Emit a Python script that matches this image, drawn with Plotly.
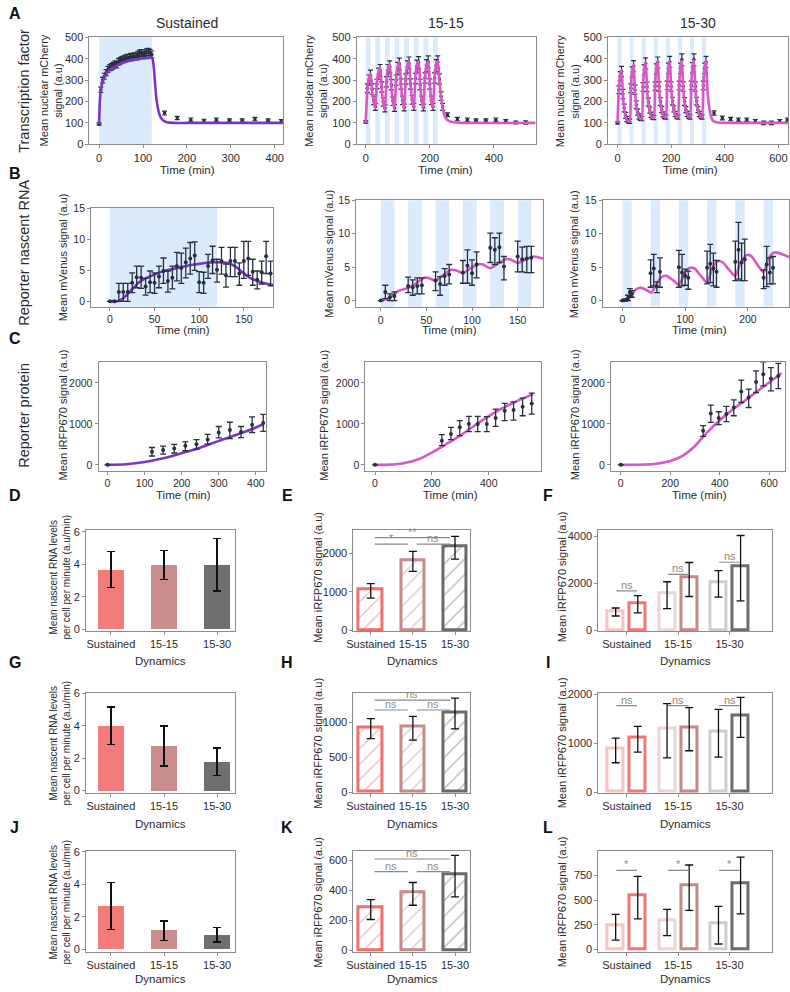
import plotly.graph_objects as go

W, H = 790, 992
FONT = "Liberation Sans, Arial, Helvetica, sans-serif"
NARROW = "Liberation Sans Narrow, Arial Narrow, Liberation Sans, Arial, sans-serif"
FRAME = "#8c8c8c"
TXT = "#2b2b2b"
DOT = "#28303f"
PURPLE = "#7a36c6"
PINK = "#d957c4"
BLUE = "#dcebfb"
SIG = "#8a8a8a"

# ======================= DATA =======================
titles = ["Sustained", "15-15", "15-30"]
categories = ["Sustained", "15-15", "15-30"]

# stimulation pulses (min)
A1_pulses = [[0, 120]]
A2_pulses = [[0, 15], [30, 45], [60, 75], [90, 105], [120, 135], [150, 165], [180, 195], [210, 225]]
A3_pulses = [[0, 15], [45, 60], [90, 105], [135, 150], [180, 195], [225, 240], [270, 285], [315, 330]]
B1_pulses = [[0, 120]]
B2_pulses = [[0, 15], [30, 45], [60, 75], [90, 105], [120, 135], [150, 165]]
B3_pulses = [[0, 15], [45, 60], [90, 105], [135, 150], [180, 195], [225, 240]]

# ---- Row A: nuclear mCherry ----
A1_t = [0, 4, 8, 12, 16, 20, 24, 28, 32, 36, 40, 44, 48, 52, 56, 60, 64, 68, 72, 76, 80, 84, 88, 92, 96, 100,
        104, 108, 112, 116, 120, 149, 178, 209, 239, 267, 297, 326, 355, 385, 415]
A1_y = [95, 255, 300, 318, 335, 350, 358, 362, 368, 375, 372, 385, 390, 395, 398, 402, 405, 405, 410, 408, 412,
        410, 420, 425, 428, 418, 425, 430, 432, 428, 420, 146, 123, 115, 110, 115, 112, 112, 118, 112, 107]
A1_err = [5, 12, 13, 14, 14, 14, 14, 15, 15, 15, 15, 15, 15, 15, 15, 15, 15, 15, 15, 15, 15, 15, 15, 15, 15,
          16, 16, 16, 16, 16, 16, 9, 8, 8, 7, 8, 7, 7, 8, 7, 8]
A1_curve_t = [0, 1, 2, 4, 7, 10, 15, 20, 30, 40, 50, 60, 70, 80, 90, 100, 110, 120, 122, 125, 128, 131, 135,
              140, 147, 155, 170, 200, 300, 420]
A1_curve_y = [95, 170, 215, 255, 285, 303, 323, 338, 356, 368, 377, 384, 390, 394, 398, 401, 403, 405, 398, 350,
              270, 205, 158, 127, 110, 103, 100, 100, 100, 100]

A2_t = [0, 5, 10, 15, 20, 25, 30, 35, 40, 45, 50, 55, 60, 65, 70, 75, 80, 85, 90, 95, 100, 105, 110, 115, 120,
        125, 130, 135, 140, 145, 150, 155, 160, 165, 170, 175, 180, 185, 190, 195, 200, 205, 210, 215, 220, 225,
        230, 235, 240, 255, 286, 317, 344, 375, 406, 437, 468, 499]
A2_y = [105, 262, 300, 322, 258, 205, 175, 282, 330, 345, 268, 198, 168, 292, 345, 362, 278, 202, 170, 300, 355,
        375, 282, 205, 172, 305, 362, 380, 282, 208, 175, 308, 365, 382, 280, 205, 172, 310, 368, 385, 282, 205,
        175, 310, 368, 385, 305, 225, 175, 138, 118, 115, 112, 112, 115, 108, 102, 102]
A2_err = [6, 20, 24, 25, 24, 20, 16, 22, 26, 28, 24, 20, 16, 24, 28, 28, 24, 20, 16, 24, 28, 28, 24, 20, 16,
          24, 28, 28, 24, 20, 16, 24, 28, 28, 24, 20, 16, 24, 28, 28, 24, 20, 16, 24, 28, 28, 24, 20, 16,
          9, 8, 8, 7, 7, 8, 7, 7, 8]
A2_curve_t = [0, 5, 10, 15, 20, 25, 30, 35, 40, 45, 50, 55, 60, 65, 70, 75, 80, 85, 90, 95, 100, 105, 110, 115,
              120, 125, 130, 135, 140, 145, 150, 155, 160, 165, 170, 175, 180, 185, 190, 195, 200, 205, 210, 215,
              220, 225, 230, 235, 240, 245, 250, 260, 280, 300, 530]
A2_curve_y = [100, 250, 310, 330, 250, 195, 170, 290, 340, 360, 260, 190, 162, 300, 355, 375, 270, 195, 165, 310,
              365, 385, 275, 200, 168, 315, 370, 388, 278, 200, 170, 315, 370, 388, 278, 200, 170, 315, 370, 388,
              278, 200, 170, 315, 370, 390, 300, 220, 170, 140, 122, 108, 102, 100, 100]

A3_t = [0, 5, 10, 15, 20, 25, 30, 35, 40, 45, 50, 55, 60, 65, 70, 75, 80, 85, 90, 95, 100, 105, 110, 115, 120,
        125, 130, 135, 140, 145, 150, 155, 160, 165, 170, 175, 180, 185, 190, 195, 200, 205, 210, 215, 220, 225,
        230, 235, 240, 245, 250, 255, 260, 265, 270, 275, 280, 285, 290, 295, 300, 305, 310, 315, 320, 325, 330,
        360, 391, 422, 451, 482, 514, 545, 574, 605, 634]
A3_y = [100, 255, 318, 340, 235, 170, 135, 118, 110, 108, 262, 338, 365, 255, 185, 150, 130, 122, 120, 268, 348,
        378, 268, 198, 160, 138, 128, 125, 272, 352, 382, 270, 200, 162, 140, 130, 128, 275, 355, 385, 270, 202,
        165, 142, 132, 128, 275, 355, 395, 270, 200, 162, 142, 132, 128, 275, 358, 395, 270, 202, 162, 142, 132,
        128, 275, 355, 385, 146, 123, 118, 115, 115, 108, 100, 100, 108, 115]
A3_err = [5, 18, 22, 24, 22, 18, 14, 12, 10, 10, 20, 24, 26, 22, 18, 14, 12, 10, 10, 20, 24, 26, 22, 18, 14, 12,
          10, 10, 20, 24, 26, 22, 18, 14, 12, 10, 10, 20, 24, 26, 22, 18, 14, 12, 10, 10, 20, 24, 28, 22, 18, 14,
          12, 10, 10, 20, 24, 28, 22, 18, 14, 12, 10, 10, 20, 24, 26, 10, 9, 8, 8, 8, 8, 8, 8, 8, 8]
A3_curve_t = [0, 5, 10, 15, 20, 25, 30, 35, 40, 45, 50, 55, 60, 65, 70, 75, 80, 85, 90, 95, 100, 105, 110, 115,
              120, 125, 130, 135, 140, 145, 150, 155, 160, 165, 170, 175, 180, 185, 190, 195, 200, 205, 210, 215,
              220, 225, 230, 235, 240, 245, 250, 255, 260, 265, 270, 275, 280, 285, 290, 295, 300, 305, 310, 315,
              320, 325, 330, 335, 340, 345, 350, 355, 365, 380, 400, 636]
A3_curve_y = [100, 260, 325, 345, 230, 165, 130, 115, 108, 105, 270, 345, 372, 250, 180, 145, 128, 120, 118, 275,
              355, 385, 262, 192, 155, 135, 125, 122, 278, 358, 388, 265, 196, 158, 138, 128, 125, 280, 360, 390,
              265, 198, 160, 140, 130, 125, 280, 360, 390, 265, 198, 160, 140, 130, 125, 280, 362, 392, 265, 198,
              160, 140, 130, 125, 280, 360, 390, 262, 190, 150, 125, 112, 104, 101, 100, 100]

# ---- Row B: nascent RNA (mVenus) ----
B1_t = [0, 5, 10, 15, 20, 25, 30, 35, 40, 45, 50, 55, 60, 65, 70, 75, 80, 85, 90, 95, 100, 105, 110, 115, 120,
        125, 130, 135, 140, 145, 150, 155, 160, 165, 170, 175, 180]
B1_y = [0, 0, 1.5, 1.5, 1.5, 3.0, 3.9, 3.8, 2.4, 3.1, 3.0, 4.0, 4.9, 3.3, 3.8, 5.7, 5.4, 6.3, 6.9, 7.4, 3.1, 3.0,
        5.7, 6.6, 5.1, 6.5, 4.2, 6.5, 6.5, 4.5, 6.5, 6.9, 4.8, 3.5, 4.7, 7.3, 4.5]
B1_lo = [0, 0, 0, 0, 0, 1.4, 2.2, 2.1, 1.0, 1.4, 1.3, 2.2, 2.9, 1.5, 2.0, 3.3, 2.9, 3.8, 4.4, 5.0, 1.4, 1.3, 3.7,
         4.5, 3.1, 4.4, 2.3, 4.0, 4.0, 2.6, 3.7, 4.2, 2.6, 2.0, 2.8, 4.5, 2.5]
B1_hi = [0, 0, 2.9, 2.9, 2.9, 4.6, 5.7, 5.7, 3.7, 4.9, 4.6, 5.7, 7.0, 4.9, 5.7, 7.9, 7.8, 8.6, 9.5, 9.6, 4.8, 4.7,
         7.6, 8.9, 6.8, 8.7, 6.0, 8.7, 8.7, 6.2, 9.7, 9.7, 6.8, 4.9, 6.5, 9.7, 6.5]
B1_curve_t = [0, 8, 14, 20, 32, 40, 51, 60, 69, 80, 88, 100, 106, 115, 125, 132, 140, 146, 151, 158, 165, 172,
              180, 183]
B1_curve_y = [0, 0.0, 0.4, 1.2, 3.0, 3.7, 4.4, 4.85, 5.2, 5.55, 5.8, 6.05, 6.2, 6.3, 6.3, 6.2, 5.7, 5.0, 4.4,
              3.7, 3.3, 2.95, 2.7, 2.65]

B2_t = [0, 5, 10, 15, 30, 35, 40, 45, 60, 65, 70, 75, 90, 95, 100, 105, 120, 125, 130, 135, 150, 155, 160, 165]
B2_y = [0, 1.3, 0.5, 0.7, 2.2, 2.0, 2.2, 2.3, 3.0, 2.5, 3.7, 3.9, 4.2, 5.2, 4.1, 5.4, 7.9, 7.6, 8.0, 5.1, 6.6, 6.2,
        6.3, 6.4]
B2_lo = [0, 0.3, 0, 0, 1.2, 0.8, 1.0, 1.0, 1.5, 0.8, 2.3, 2.5, 2.6, 2.6, 2.3, 3.4, 5.7, 5.4, 5.7, 3.1, 4.3, 4.3,
         4.2, 4.2]
B2_hi = [0, 2.3, 1.0, 1.3, 3.5, 3.1, 3.4, 3.4, 4.3, 3.6, 4.8, 5.4, 6.0, 7.6, 6.1, 7.3, 10.1, 9.4, 10.1, 6.6, 8.9,
         8.0, 8.1, 8.1]
B2_curve_t = [0, 8, 15, 20, 30, 38, 47, 52, 60, 68, 77, 82, 90, 98, 107, 112, 120, 128, 137, 142, 150, 158, 167,
              172, 178]
B2_curve_y = [0, 0.3, 1.0, 1.5, 1.9, 2.5, 3.4, 3.4, 3.0, 3.8, 4.6, 4.55, 4.1, 4.8, 5.45, 5.4, 4.85, 5.5, 6.2,
              6.15, 5.65, 6.1, 6.6, 6.5, 6.3]

B3_t = [0, 3, 6, 9, 12, 15, 45, 50, 55, 60, 90, 95, 100, 105, 135, 140, 145, 150, 180, 185, 190, 195, 225, 230,
        235, 240]
B3_y = [0, 0.05, 0.1, 0.4, 1.2, 1.0, 4.1, 4.8, 2.1, 4.3, 5.0, 4.2, 3.7, 3.4, 4.9, 5.5, 4.8, 4.3, 5.8, 7.6, 5.7,
        6.2, 3.4, 5.4, 4.2, 4.9]
B3_lo = [0, 0, 0, 0, 0.6, 0.5, 2.0, 2.2, 1.2, 2.0, 2.0, 2.2, 2.3, 1.7, 2.5, 2.7, 2.2, 2.0, 3.0, 3.2, 3.0, 3.0,
         1.8, 2.1, 2.5, 2.5]
B3_hi = [0, 0.1, 0.2, 0.8, 1.8, 1.5, 6.1, 6.9, 2.8, 6.4, 7.5, 6.9, 4.7, 4.4, 7.4, 8.4, 7.1, 6.0, 8.9, 11.7, 8.6,
         9.2, 4.6, 8.1, 6.4, 6.6]
B3_curve_t = [0, 8, 15, 22, 30, 40, 46, 55, 62, 70, 80, 90, 100, 108, 115, 125, 135, 143, 152, 160, 170, 180,
              188, 198, 205, 215, 225, 233, 242, 250, 258, 266]
B3_curve_y = [0, 0.1, 0.9, 1.7, 1.9, 1.5, 1.2, 2.6, 3.5, 3.7, 3.1, 2.4, 4.2, 4.9, 4.8, 3.7, 2.7, 4.8, 5.9, 5.7,
              4.6, 3.7, 5.6, 6.8, 6.7, 5.4, 4.3, 6.3, 7.2, 7.1, 6.8, 6.5]

# ---- Row C: reporter protein (iRFP670) ----
C1_t = [0, 120, 150, 180, 210, 240, 270, 300, 330, 360, 390, 420]
C1_y = [0, 320, 360, 400, 464, 504, 616, 790, 850, 800, 980, 1020]
C1_lo = [0, 216, 264, 290, 344, 376, 504, 660, 640, 664, 790, 816]
C1_hi = [0, 424, 456, 500, 560, 616, 744, 936, 1040, 936, 1170, 1230]
C1_curve_t = [0, 50, 100, 150, 200, 250, 300, 350, 400, 420]
C1_curve_y = [0, 15, 68, 160, 285, 420, 585, 740, 910, 990]

C2_t = [0, 235, 267, 298, 330, 361, 393, 424, 456, 487, 519, 551]
C2_y = [0, 590, 753, 915, 996, 996, 996, 1142, 1320, 1336, 1417, 1498]
C2_lo = [0, 470, 615, 713, 810, 810, 810, 940, 1077, 1093, 1198, 1239]
C2_hi = [0, 737, 915, 1077, 1182, 1182, 1175, 1360, 1498, 1538, 1627, 1749]
C2_curve_t = [0, 50, 100, 150, 200, 250, 300, 350, 400, 450, 500, 556]
C2_curve_y = [0, 5, 40, 130, 300, 505, 715, 960, 1190, 1390, 1560, 1725]

C3_t = [0, 333, 364, 396, 427, 457, 487, 517, 547, 576, 607, 637]
C3_y = [0, 834, 1255, 1142, 1239, 1400, 1789, 1643, 2024, 2210, 2105, 2170]
C3_lo = [0, 696, 1036, 980, 1053, 1198, 1522, 1400, 1765, 1927, 1805, 1862]
C3_hi = [0, 955, 1457, 1296, 1425, 1587, 2065, 1846, 2291, 2510, 2372, 2478]
C3_curve_t = [0, 100, 150, 200, 250, 300, 350, 400, 450, 500, 550, 600, 650]
C3_curve_y = [0, 8, 35, 95, 220, 460, 800, 1090, 1340, 1560, 1790, 2010, 2240]

# ---- Bar panels ----
D_y = [3.65, 3.95, 3.95]; D_lo = [2.55, 3.08, 2.35]; D_hi = [4.78, 4.85, 5.58]
G_y = [3.98, 2.75, 1.78]; G_lo = [2.85, 1.52, 0.92]; G_hi = [5.15, 3.98, 2.63]
J_y = [2.65, 1.15, 0.86]; J_lo = [1.22, 0.56, 0.46]; J_hi = [4.10, 1.74, 1.35]

E_y = [1050, 1820, 2190]; E_lo = [830, 1530, 1850]; E_hi = [1210, 2050, 2440]
H_y = [925, 940, 1140]; H_lo = [765, 745, 905]; H_hi = [1050, 1085, 1345]
K_y = [285, 388, 508]; K_lo = [207, 302, 358]; K_hi = [340, 454, 635]

F_light = [820, 1560, 2030]; F_light_lo = [600, 910, 1400]; F_light_hi = [940, 2060, 2530]
F_dark = [1160, 2230, 2720]; F_dark_lo = [730, 1430, 1240]; F_dark_hi = [1470, 2880, 4030]
I_light = [880, 1290, 1230]; I_light_lo = [600, 700, 715]; I_light_hi = [1105, 1810, 1690]
I_dark = [1115, 1322, 1560]; I_dark_lo = [815, 845, 1120]; I_dark_hi = [1345, 1725, 1935]
L_light = [240, 290, 260]; L_light_lo = [95, 140, 55]; L_light_hi = [355, 405, 435]
L_dark = [545, 645, 665]; L_dark_lo = [310, 395, 360]; L_dark_hi = [740, 855, 935]

# significance: (label, cat_a, cat_b, y)
E_sig = [("*", 0, 1, 2240), ("ns", 1, 2, 2240), ("**", 0, 2, 2410)]
H_sig = [("ns", 0, 1, 1175), ("ns", 1, 2, 1175), ("ns", 0, 2, 1316)]
K_sig = [("ns", 0, 1, 527), ("ns", 1, 2, 527), ("ns", 0, 2, 611)]
# within-group: (label, cat, y)
F_sig = [("ns", 0, 1670), ("ns", 1, 2370), ("ns", 2, 2890)]
I_sig = [("ns", 0, 1766), ("ns", 1, 1766), ("ns", 2, 1766)]
L_sig = [("*", 0, 800), ("*", 1, 800), ("*", 2, 800)]

SOLID = ["#f47b7b", "#c98d8d", "#6f6f6f"]
HATCH = ["#ef6e6e", "#c48b8b", "#6a6a6a"]
LIGHT = ["#f6c4c4", "#ead6d6", "#cdcdcd"]
DARK = ["#f07777", "#c48a8a", "#6d6d6d"]
CAT = [0, 1, 2]

# ======================= FIGURE =======================
fig = go.Figure()
layout = dict(width=W, height=H, margin=dict(l=0, r=0, t=0, b=0), paper_bgcolor="white",
              plot_bgcolor="white", showlegend=False)
shapes, annotations = [], []


def names(i):
    return ("x" if i == 1 else f"x{i}"), ("y" if i == 1 else f"y{i}")


def setup(i, box, xr, yr, xt, yt, xtext=None, tfont=None):
    l, t, r, b = box
    xn, yn = names(i)
    common = dict(showline=True, mirror=True, linecolor=FRAME, linewidth=1, ticks="outside", ticklen=3,
                  tickwidth=1, tickcolor=FRAME, showgrid=False, zeroline=False, tickfont=tfont,
                  fixedrange=True, tickmode="array", tickangle=0)
    key = "" if i == 1 else str(i)
    layout["xaxis" + key] = dict(domain=[l / W, min(r / W, 1.0)], range=xr, anchor=yn, tickvals=xt,
                                 ticktext=xtext if xtext else [str(v) for v in xt], **common)
    layout["yaxis" + key] = dict(domain=[1 - b / H, 1 - t / H], range=yr, anchor=xn, tickvals=yt,
                                 ticktext=[str(v) for v in yt], **common)


def pulses(i, lst):
    xn, yn = names(i)
    for s, e in lst:
        shapes.append(dict(type="rect", xref=xn, yref=yn + " domain", x0=s, x1=e, y0=0, y1=1,
                           fillcolor=BLUE, line=dict(width=0), layer="below"))


def curve(i, t, y, color):
    xn, yn = names(i)
    fig.add_trace(go.Scatter(x=t, y=y, mode="lines", xaxis=xn, yaxis=yn, hoverinfo="skip",
                             line=dict(color=color, width=2.6, shape="spline", smoothing=0.7)))


def pts_sym(i, t, y, err):
    xn, yn = names(i)
    fig.add_trace(go.Scatter(x=t, y=y, mode="markers", xaxis=xn, yaxis=yn,
                             marker=dict(color=DOT, size=3.5),
                             error_y=dict(type="data", array=err, color=DOT, thickness=1.2, width=2.5)))


def pts_asym(i, t, y, lo, hi):
    xn, yn = names(i)
    fig.add_trace(go.Scatter(x=t, y=y, mode="markers", xaxis=xn, yaxis=yn,
                             marker=dict(color=DOT, size=4),
                             error_y=dict(type="data", symmetric=False,
                                          array=[h - v for h, v in zip(hi, y)],
                                          arrayminus=[v - l for v, l in zip(y, lo)],
                                          color=DOT, thickness=1.3, width=3)))


def err(y, lo, hi):
    return dict(type="data", symmetric=False, array=[h - v for h, v in zip(hi, y)],
                arrayminus=[v - l for v, l in zip(y, lo)], color="#111111", thickness=1.3, width=4)


def ann(text, x, y, size, family=FONT, angle=0, color=TXT, xanchor="center", yanchor="middle"):
    annotations.append(dict(text=text, x=x / W, y=1 - y / H, xref="paper", yref="paper", showarrow=False,
                            font=dict(size=size, family=family, color=color), textangle=angle,
                            xanchor=xanchor, yanchor=yanchor))


fA = dict(family=FONT, size=11, color=TXT)
fB = dict(family=FONT, size=10.5, color=TXT)
fC = dict(family=NARROW, size=10.5, color=TXT)
fD = dict(family=NARROW, size=11, color=TXT)

# ---- Row A ----
setup(1, (83.3, 31.7, 279.3, 140), [-22, 420], [0, 500], [0, 100, 200, 300, 400], [0, 100, 200, 300, 400, 500], tfont=fA)
setup(2, (353.3, 31.7, 534, 140), [-28, 530], [0, 500], [0, 200, 400], [0, 100, 200, 300, 400, 500], tfont=fA)
setup(3, (607.3, 31.7, 789, 140), [-35, 636], [0, 500], [0, 200, 400, 600], [0, 100, 200, 300, 400, 500], tfont=fA)
pulses(1, A1_pulses); pulses(2, A2_pulses); pulses(3, A3_pulses)
pts_sym(1, A1_t, A1_y, A1_err); curve(1, A1_curve_t, A1_curve_y, PURPLE)
pts_sym(2, A2_t, A2_y, A2_err); curve(2, A2_curve_t, A2_curve_y, PINK)
pts_sym(3, A3_t, A3_y, A3_err); curve(3, A3_curve_t, A3_curve_y, PINK)

# ---- Row B ----
setup(4, (85, 204, 269, 304.3), [-21, 183], [-0.85, 15.15], [0, 50, 100, 150], [0, 5, 10, 15], tfont=fB)
setup(5, (352.7, 196.7, 541.7, 305), [-27, 178], [-1, 15], [0, 50, 100, 150], [0, 5, 10, 15], tfont=fB)
setup(6, (601.7, 196.7, 790, 304.3), [-31.5, 265.5], [-0.9, 15], [0, 100, 200], [0, 5, 10, 15], tfont=fB)
pulses(4, B1_pulses); pulses(5, B2_pulses); pulses(6, B3_pulses)
curve(4, B1_curve_t, B1_curve_y, PURPLE); pts_asym(4, B1_t, B1_y, B1_lo, B1_hi)
curve(5, B2_curve_t, B2_curve_y, PINK); pts_asym(5, B2_t, B2_y, B2_lo, B2_hi)
curve(6, B3_curve_t, B3_curve_y, PINK); pts_asym(6, B3_t, B3_y, B3_lo, B3_hi)

# ---- Row C ----
setup(7, (92.5, 360.5, 261.5, 470.5), [-24, 427], [-145, 2506], [0, 100, 200, 300, 400], [0, 1000, 2000], tfont=fC)
setup(8, (362, 360.5, 539.3, 470.5), [-34, 583], [-145, 2506], [0, 200, 400], [0, 1000, 2000], tfont=fC)
setup(9, (610, 360.5, 786, 470.5), [-40, 664], [-145, 2506], [0, 200, 400, 600], [0, 1000, 2000], tfont=fC)
curve(7, C1_curve_t, C1_curve_y, PURPLE); pts_asym(7, C1_t, C1_y, C1_lo, C1_hi)
curve(8, C2_curve_t, C2_curve_y, PINK); pts_asym(8, C2_t, C2_y, C2_lo, C2_hi)
curve(9, C3_curve_t, C3_curve_y, PINK); pts_asym(9, C3_t, C3_y, C3_lo, C3_hi)

# ---- Bar panels ----
bar_rows = [
    (10, 11, 12, 530.7, 632.7, [-0.12, 6.1], [-26, 2600], [-42, 4253], [0, 2, 4, 6], [0, 1000, 2000], [0, 2000, 4000],
     (D_y, D_lo, D_hi), (E_y, E_lo, E_hi, E_sig),
     (F_light, F_light_lo, F_light_hi, F_dark, F_dark_lo, F_dark_hi, F_sig)),
    (13, 14, 15, 695, 796.7, [-0.15, 6.04], [-14, 1424], [-20, 2034], [0, 2, 4, 6], [0, 500, 1000], [0, 1000, 2000],
     (G_y, G_lo, G_hi), (H_y, H_lo, H_hi, H_sig),
     (I_light, I_light_lo, I_light_hi, I_dark, I_dark_lo, I_dark_hi, I_sig)),
    (16, 17, 18, 855.7, 957.7, [-0.16, 6.02], [-11, 662], [-27, 993], [0, 2, 4, 6], [0, 200, 400, 600], [0, 250, 500, 750],
     (J_y, J_lo, J_hi), (K_y, K_lo, K_hi, K_sig),
     (L_light, L_light_lo, L_light_hi, L_dark, L_dark_lo, L_dark_hi, L_sig)),
]

for (i1, i2, i3, top, bot, yr1, yr2, yr3, yt1, yt2, yt3, s1, s2, s3) in bar_rows:
    setup(i1, (80, top, 230, bot), [-0.465, 2.33], yr1, CAT, yt1, xtext=categories, tfont=fD)
    setup(i2, (350, top, 467.5, bot), [-0.41, 2.35], yr2, CAT, yt2, xtext=categories, tfont=fD)
    setup(i3, (597.5, top, 772.5, bot), [-0.55, 2.82], yr3, CAT, yt3, xtext=categories, tfont=fD)
    # solid bars
    xn, yn = names(i1)
    fig.add_trace(go.Bar(x=CAT, y=s1[0], width=0.49, xaxis=xn, yaxis=yn,
                         marker=dict(color=SOLID, line=dict(width=0)), error_y=err(*s1)))
    # hatched bars
    xn, yn = names(i2)
    fig.add_trace(go.Bar(x=CAT, y=s2[0], width=0.56, xaxis=xn, yaxis=yn,
                         marker=dict(color="white", line=dict(color=HATCH, width=3),
                                     pattern=dict(shape="/", fgcolor=HATCH, bgcolor="white", size=11,
                                                  solidity=0.12, fillmode="overlay")),
                         error_y=err(s2[0], s2[1], s2[2])))
    for lab, a, b, yv in s2[3]:
        x0 = a + 0.09
        x1 = b - 0.12
        shapes.append(dict(type="line", xref=xn, yref=yn, x0=x0, x1=x1, y0=yv, y1=yv,
                           line=dict(color=SIG, width=1.2)))
        annotations.append(dict(text=lab, x=(x0 + x1) / 2, y=yv, xref=xn, yref=yn, showarrow=False,
                                yanchor="bottom", yshift=-2,
                                font=dict(family=NARROW, size=11, color=SIG)))
    # paired hollow bars
    xn, yn = names(i3)
    fig.add_trace(go.Bar(x=CAT, y=s3[0], width=0.31, offset=-0.37, xaxis=xn, yaxis=yn,
                         marker=dict(color="white", line=dict(color=LIGHT, width=3)),
                         error_y=err(s3[0], s3[1], s3[2])))
    fig.add_trace(go.Bar(x=CAT, y=s3[3], width=0.31, offset=0.06, xaxis=xn, yaxis=yn,
                         marker=dict(color="white", line=dict(color=DARK, width=3)),
                         error_y=err(s3[3], s3[4], s3[5])))
    for lab, c, yv in s3[6]:
        shapes.append(dict(type="line", xref=xn, yref=yn, x0=c - 0.2, x1=c + 0.2, y0=yv, y1=yv,
                           line=dict(color=SIG, width=1.2)))
        annotations.append(dict(text=lab, x=c, y=yv, xref=xn, yref=yn, showarrow=False,
                                yanchor="bottom", yshift=-2,
                                font=dict(family=NARROW, size=11, color=SIG)))

# ---- Text ----
ann(titles[0], 182, 17, 14)
ann(titles[1], 443, 17, 14)
ann(titles[2], 698, 17, 14)

for letter, x, y in [("A", 8, 8), ("B", 8, 170), ("C", 8, 337), ("D", 8, 495), ("E", 283, 495),
                     ("F", 547, 495), ("G", 8, 665), ("H", 283, 665), ("I", 547, 665), ("J", 8, 832),
                     ("K", 283, 832), ("L", 547, 832)]:
    ann("<b>" + letter + "</b>", x, y, 16, family=FONT, color="#111")

ann("Transcription factor", 17, 86, 14.5, angle=-90)
ann("Reporter nascent RNA", 17, 250, 14.5, angle=-90)
ann("Reporter protein", 17, 414, 14.5, angle=-90)

for x in (44, 312, 566):
    ann("Mean nuclear mCherry<br>signal (a.u)", x, 86, 11, angle=-90)
for x, yc in ((56, 254), (325, 251), (573, 251)):
    ann("Mean mVenus signal (a.u)", x, yc, 11, angle=-90)
for x in (57, 320, 574):
    ann("Mean iRFP670 signal (a.u)", x, 414, 11, angle=-90)
for yc in (578, 746, 907):
    ann("Mean nascent RNA levels<br>per cell per minute (a.u/min)", 54, yc, 10, angle=-90)
    ann("Mean iRFP670 signal (a.u)", 314, yc, 11, angle=-90)
    ann("Mean iRFP670 signal (a.u)", 561, yc, 11, angle=-90)

for x in (182, 443, 690):
    ann("Time (min)", x, 166, 11.5, family=NARROW)
for x in (177, 447, 700):
    ann("Time (min)", x, 328, 11.5, family=NARROW)
for x in (178, 448, 700):
    ann("Time (min)", x, 495, 11.5, family=NARROW)
for yv in (663, 828, 985):
    for x in (155, 410, 685):
        ann("Dynamics", x, yv, 11.5, family=NARROW)

layout["shapes"] = shapes
layout["annotations"] = annotations
layout["bargap"] = 0
fig.update_layout(**layout)

fig.write_html("out.html", config={"displayModeBar": False},
               post_script="document.body.style.margin='0';document.body.style.overflow='hidden';")
